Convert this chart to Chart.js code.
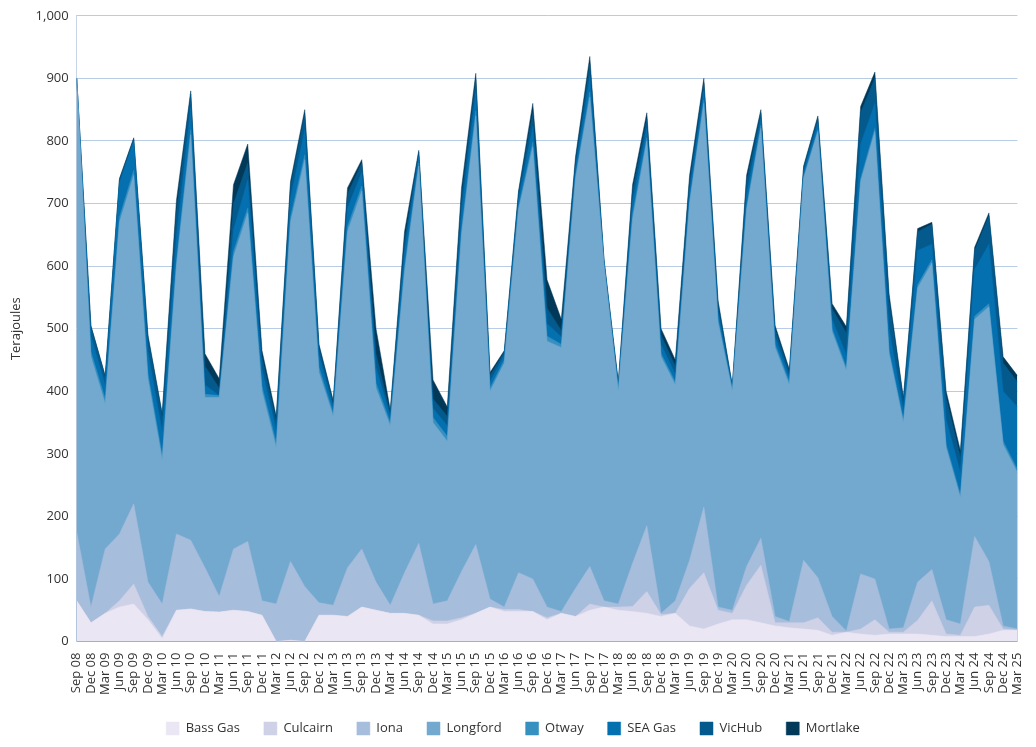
<!DOCTYPE html>
<html><head><meta charset="utf-8">
<script src="https://cdn.jsdelivr.net/npm/chart.js@4"></script>
<style>html,body{margin:0;padding:0;background:#fff}#w{width:1036px;height:747px}</style>
</head><body><div id="w"><canvas id="c"></canvas></div>
<script>
const labels=["Sep 08","Dec 08","Mar 09","Jun 09","Sep 09","Dec 09","Mar 10","Jun 10","Sep 10","Dec 10","Mar 11","Jun 11","Sep 11","Dec 11","Mar 12","Jun 12","Sep 12","Dec 12","Mar 13","Jun 13","Sep 13","Dec 13","Mar 14","Jun 14","Sep 14","Dec 14","Mar 15","Jun 15","Sep 15","Dec 15","Mar 16","Jun 16","Sep 16","Dec 16","Mar 17","Jun 17","Sep 17","Dec 17","Mar 18","Jun 18","Sep 18","Dec 18","Mar 19","Jun 19","Sep 19","Dec 19","Mar 20","Jun 20","Sep 20","Dec 20","Mar 21","Jun 21","Sep 21","Dec 21","Mar 22","Jun 22","Sep 22","Dec 22","Mar 23","Jun 23","Sep 23","Dec 23","Mar 24","Jun 24","Sep 24","Dec 24","Mar 25"];
const bassGas=[65,30,45,55,60,35,5,50,52,48,47,50,48,42,0,2,0,42,42,40,55,50,45,45,42,28,28,35,45,55,48,48,48,35,45,40,50,55,50,48,45,40,45,25,20,28,35,35,30,25,22,20,18,10,15,12,10,12,12,12,10,8,8,8,12,18,18];
const culcairn=[0,0,0,10,32,5,3,0,0,0,0,0,0,0,0,0,0,0,0,0,0,0,0,0,0,5,5,3,0,0,3,3,0,3,0,0,10,0,5,8,35,3,0,60,90,22,10,55,92,5,8,10,20,5,0,8,25,3,3,22,55,4,2,47,46,2,0];
const iona=[110,25,103,107,128,55,52,122,110,70,25,98,112,23,60,126,88,20,16,78,93,45,13,65,115,27,32,74,110,13,4,59,52,17,3,45,60,10,5,69,105,2,20,45,105,5,5,30,43,10,2,100,64,25,2,88,65,5,7,61,50,23,18,113,70,5,2];
const longford=[725,400,232,498,525,325,230,428,648,272,318,467,525,335,250,542,682,368,302,537,572,310,287,480,603,290,255,538,685,332,390,580,690,425,422,655,750,535,340,550,615,410,345,570,645,455,350,570,655,430,378,610,713,455,416,627,715,440,328,470,490,275,202,347,407,290,250];
const otway=[0,8,8,8,8,8,8,8,8,5,3,8,8,8,8,8,8,8,5,8,8,8,5,8,5,8,8,8,8,5,5,5,8,8,5,5,8,3,3,8,5,5,5,5,5,5,3,5,5,5,5,3,3,5,5,5,5,5,5,5,5,5,5,5,5,5,5];
const seaGas=[0,25,22,55,47,35,37,40,35,15,0,35,45,27,20,30,40,20,10,30,22,25,10,25,10,15,17,30,30,10,8,12,25,20,12,12,25,3,5,20,15,15,12,15,15,12,3,20,10,12,8,7,10,15,20,55,40,35,15,55,25,40,35,75,95,80,100];
const vicHub=[0,15,13,5,3,22,25,40,22,30,12,42,27,20,15,20,25,12,7,22,15,22,5,17,7,15,15,22,20,10,5,10,22,25,10,10,20,3,5,17,15,15,13,15,12,10,2,20,10,12,8,7,8,17,35,50,40,45,15,30,32,35,25,30,45,45,40];
const mortlake=[0,2,2,2,2,5,5,17,5,20,15,30,30,10,7,7,7,5,3,10,5,40,5,15,3,30,15,15,10,5,2,3,15,45,18,8,12,1,2,10,10,10,10,10,8,8,2,10,5,6,4,3,4,8,10,10,10,10,5,5,3,10,10,5,5,10,10];
const yTicks=[0,100,200,300,400,500,600,700,800,900,1000];

const series=[["Bass Gas",bassGas,"#ebe6f3"],["Culcairn",culcairn,"#cfd1e7"],["Iona",iona,"#a7bddc"],["Longford",longford,"#74a9cf"],["Otway",otway,"#3690c0"],["SEA Gas",seaGas,"#0570b0"],["VicHub",vicHub,"#045a8d"],["Mortlake",mortlake,"#023858"]];
new Chart(document.getElementById('c'),{type:'line',
data:{labels,datasets:series.map(([l,d,c])=>({label:l,data:d,backgroundColor:c,borderColor:c,borderWidth:0.5,fill:true,pointRadius:0,tension:0}))},
options:{responsive:true,maintainAspectRatio:false,animation:false,
layout:{padding:{left:4,right:14,top:10,bottom:2}},
plugins:{legend:{position:'bottom',labels:{boxWidth:13,boxHeight:13,padding:24,color:'#333',font:{family:'Open Sans',size:13}}},tooltip:{enabled:false}},
scales:{x:{offset:false,grid:{display:false},border:{color:'#c8d4e8'},ticks:{autoSkip:false,maxRotation:90,minRotation:90,color:'#333',font:{family:'Open Sans',size:13}}},
y:{stacked:true,min:0,max:1000,afterBuildTicks:a=>{a.ticks=yTicks.map(v=>({value:v}))},border:{display:true,color:'#c8d4e8'},grid:{color:'#b9cce6',borderDash:[3,3],drawTicks:false},ticks:{padding:8,color:'#333',font:{family:'Open Sans',size:13}},title:{display:true,text:'Terajoules',color:'#333',font:{family:'Open Sans',size:13}}}}}});
</script></body></html>
